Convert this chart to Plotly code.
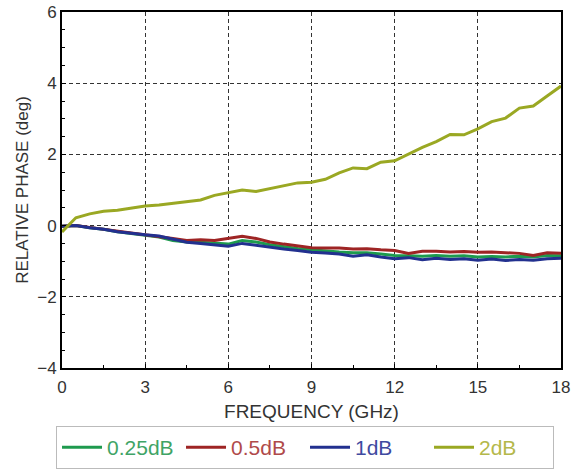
import plotly.graph_objects as go

freq = [0, 0.5, 1, 1.5, 2, 2.5, 3, 3.5, 4, 4.5, 5, 5.5, 6, 6.5, 7, 7.5, 8, 8.5, 9,
        9.5, 10, 10.5, 11, 11.5, 12, 12.5, 13, 13.5, 14, 14.5, 15, 15.5, 16, 16.5, 17, 17.5, 18]

phase_025 = [-0.02, 0.0, -0.06, -0.10, -0.17, -0.22, -0.26, -0.32, -0.42, -0.46, -0.47, -0.50, -0.52,
             -0.42, -0.46, -0.54, -0.60, -0.64, -0.68, -0.72, -0.74, -0.76, -0.76, -0.80, -0.84,
             -0.85, -0.86, -0.84, -0.86, -0.85, -0.88, -0.87, -0.88, -0.86, -0.88, -0.84, -0.85]
phase_05 = [-0.02, 0.0, -0.05, -0.10, -0.16, -0.21, -0.25, -0.29, -0.36, -0.42, -0.40, -0.42, -0.36,
            -0.30, -0.36, -0.46, -0.52, -0.58, -0.62, -0.63, -0.63, -0.66, -0.65, -0.68, -0.70,
            -0.78, -0.72, -0.72, -0.74, -0.73, -0.75, -0.74, -0.76, -0.78, -0.84, -0.76, -0.78]
phase_1 = [-0.02, 0.0, -0.06, -0.10, -0.17, -0.22, -0.26, -0.29, -0.38, -0.47, -0.50, -0.54, -0.58,
           -0.50, -0.56, -0.60, -0.66, -0.70, -0.75, -0.77, -0.80, -0.86, -0.82, -0.88, -0.93,
           -0.90, -0.96, -0.92, -0.95, -0.93, -0.97, -0.94, -0.98, -0.95, -0.97, -0.93, -0.92]
phase_2 = [-0.18, 0.22, 0.33, 0.40, 0.43, 0.50, 0.55, 0.58, 0.63, 0.69, 0.72, 0.85, 0.93,
           1.00, 0.96, 1.04, 1.12, 1.20, 1.22, 1.30, 1.48, 1.62, 1.60, 1.78, 1.82,
           2.02, 2.20, 2.36, 2.56, 2.55, 2.72, 2.92, 3.02, 3.30, 3.36, 3.64, 3.92]

series_names = ["0.25dB", "0.5dB", "1dB", "2dB"]
series_values = [phase_025, phase_05, phase_1, phase_2]
line_colors = ["#1e9a4e", "#9e2424", "#22308f", "#9aa823"]
text_colors = ["#3fa466", "#b04a4a", "#3f4aa0", "#b4b84a"]

x_ticks = [0, 3, 6, 9, 12, 15, 18]
y_ticks = [-4, -2, 0, 2, 4, 6]

FONT = "Liberation Sans, Arial, sans-serif"

fig = go.Figure()
for name, vals, lc, tc in zip(series_names, series_values, line_colors, text_colors):
    fig.add_trace(go.Scatter(
        x=freq, y=vals, mode="lines",
        name=f"<span style='color:{tc}'>{name}</span>",
        line=dict(color=lc, width=3),
    ))

axis_common = dict(
    showline=True, linecolor="black", linewidth=2, mirror=True,
    showgrid=True, gridcolor="#333333", gridwidth=1, griddash="4px,3px",
    ticks="inside", ticklen=4, tickcolor="black",
    zeroline=False, automargin=False,
    tickfont=dict(family=FONT, size=17, color="#333333"),
)

fig.update_xaxes(range=[0, 18], tickvals=x_ticks, title_text="FREQUENCY (GHz)",
                 title_standoff=8, ticklabelstandoff=3,
                 title_font=dict(family=FONT, size=19, color="#333333"),
                 minor=dict(dtick=1.5, ticks="inside", ticklen=3, tickcolor="black", showgrid=False),
                 **axis_common)
fig.update_yaxes(range=[-4, 6], tickvals=y_ticks, title_text="RELATIVE PHASE (deg)",
                 title_standoff=4,
                 title_font=dict(family=FONT, size=17, color="#333333"),
                 minor=dict(dtick=0.5, ticks="inside", ticklen=3, tickcolor="black", showgrid=False),
                 **axis_common)

fig.update_layout(
    width=574, height=470,
    margin=dict(l=62, r=13, t=12, b=102, autoexpand=False),
    plot_bgcolor="white", paper_bgcolor="white",
    showlegend=True,
    legend=dict(
        orientation="h", x=-0.012, y=-0.163, xanchor="left", yanchor="top",
        bordercolor="#bbbbbb", borderwidth=1, bgcolor="white",
        font=dict(family=FONT, size=21),
        itemwidth=40, entrywidth=69, entrywidthmode="pixels",
    ),
)

fig.write_html("out.html", config={"displayModeBar": False},
               post_script="document.body.style.margin='0';")
